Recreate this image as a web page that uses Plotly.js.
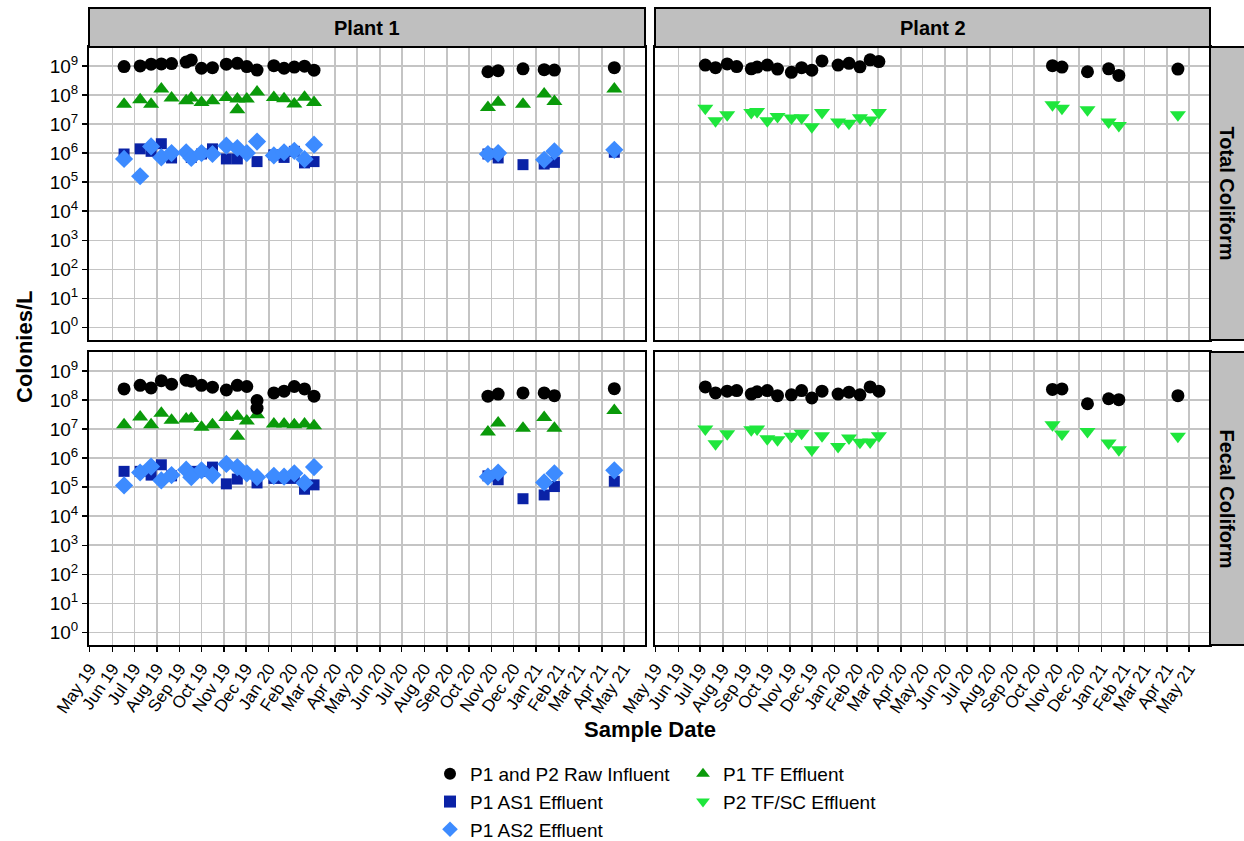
<!DOCTYPE html>
<html>
<head>
<meta charset="utf-8">
<script src="https://cdn.plot.ly/plotly-3.0.1.min.js"></script>
<style>html,body{margin:0;padding:0;background:#fff;}#chart{width:1244px;height:841px;}</style>
</head>
<body>
<div id="chart"></div>
<script>
// ---- Data ----
const P1_DATES = ['2019-06-17','2019-07-09','2019-07-24','2019-08-07','2019-08-21','2019-09-10','2019-09-17',
  '2019-10-01','2019-10-16','2019-11-04','2019-11-19','2019-11-19','2019-12-02','2019-12-16','2019-12-16',
  '2020-01-08','2020-01-22','2020-02-05','2020-02-19','2020-03-03',
  '2020-10-27','2020-11-10','2020-12-14','2021-01-12','2021-01-26','2021-04-18'];

const P1_TC_INFLUENT = [9.5e8,1.0e9,1.15e9,1.17e9,1.2e9,1.35e9,1.6e9,8.3e8,8.7e8,1.15e9,1.23e9,null,9.5e8,7.2e8,null,
  1.02e9,8.3e8,9.1e8,9.8e8,7.1e8, 6.3e8,6.8e8,7.9e8,7.4e8,7.2e8,8.7e8];
const P1_TC_AS1 = [9.3e5,1.4e6,1.15e6,2.1e6,6.8e5,null,7.1e5,9.3e5,1.4e6,6.3e5,6.3e5,null,null,5.1e5,null,
  8.7e5,7.1e5,1.15e6,4.6e5,5.1e5, 9.3e5,6.8e5,4.0e5,4.2e5,4.8e5,1.07e6];
const P1_TC_AS2 = [6.3e5,1.6e5,1.7e6,7.1e5,1.0e6,1.07e6,6.8e5,1.0e6,9.3e5,1.8e6,1.5e6,null,1.0e6,2.5e6,null,
  8.3e5,1.07e6,1.2e6,6.2e5,1.95e6, 9.3e5,1.0e6,null,5.9e5,1.15e6,1.3e6];
const P1_TC_TF = [4.8e7,6.8e7,4.8e7,1.6e8,7.8e7,6.3e7,7.8e7,5.5e7,6.3e7,8.1e7,7.2e7,3.1e7,7.2e7,1.26e8,null,
  8.1e7,7.4e7,4.9e7,8.3e7,5.5e7, 3.7e7,5.6e7,4.8e7,1.07e8,5.9e7,1.6e8];

const P1_FC_INFLUENT = [2.4e8,3.2e8,2.6e8,4.6e8,3.5e8,4.8e8,4.4e8,3.2e8,2.75e8,2.2e8,3.2e8,null,2.9e8,9.5e7,5.2e7,
  1.74e8,2.0e8,2.9e8,2.4e8,1.35e8, 1.35e8,1.6e8,1.74e8,1.74e8,1.4e8,2.45e8];
const P1_FC_AS1 = [3.5e5,3.5e5,2.6e5,5.9e5,2.45e5,null,3.5e5,3.5e5,4.9e5,1.3e5,1.9e5,null,null,1.4e5,null,
  2.0e5,2.0e5,2.0e5,8.5e4,1.2e5, 2.45e5,1.8e5,4.0e4,5.4e4,1.05e5,1.6e5];
const P1_FC_AS2 = [1.15e5,3.2e5,5.1e5,1.7e5,2.6e5,4.0e5,2.2e5,3.8e5,2.6e5,6.3e5,4.9e5,null,3.0e5,2.2e5,null,
  2.45e5,2.3e5,3.0e5,1.4e5,4.9e5, 2.3e5,3.2e5,null,1.45e5,3.0e5,3.8e5];
const P1_FC_TF = [1.4e7,2.6e7,1.4e7,3.5e7,2.0e7,2.2e7,2.3e7,1.15e7,1.4e7,2.5e7,2.75e7,5.6e6,1.9e7,3.1e7,null,
  1.5e7,1.5e7,1.4e7,1.5e7,1.3e7, 7.9e6,1.6e7,1.07e7,2.5e7,1.07e7,4.3e7];

const P2_DATES = ['2019-07-08','2019-07-22','2019-08-07','2019-08-20','2019-09-09','2019-09-17','2019-10-01',
  '2019-10-15','2019-11-03','2019-11-17','2019-12-01','2019-12-15','2020-01-06','2020-01-21','2020-02-05',
  '2020-02-19','2020-03-02','2020-10-26','2020-11-08','2020-12-13','2021-01-11','2021-01-25','2021-04-16'];

const P2_TC_INFLUENT = [1.07e9,8.7e8,1.17e9,9.5e8,7.9e8,9.1e8,1.07e9,7.8e8,6.0e8,8.7e8,7.1e8,1.48e9,1.07e9,1.23e9,
  9.3e8,1.62e9,1.41e9, 1.02e9,9.1e8,6.3e8,7.9e8,4.7e8,7.8e8];
const P2_TC_TFSC = [3.5e7,1.3e7,2.1e7,null,2.5e7,2.7e7,1.3e7,1.8e7,1.6e7,1.66e7,8.1e6,2.5e7,1.17e7,1.07e7,
  1.66e7,1.38e7,2.5e7, 4.6e7,3.5e7,3.1e7,1.17e7,8.9e6,2.1e7];
const P2_FC_INFLUENT = [2.8e8,1.74e8,2.0e8,2.1e8,1.6e8,1.9e8,2.1e8,1.4e8,1.5e8,2.1e8,1.17e8,2.0e8,1.6e8,1.86e8,
  1.5e8,2.8e8,2.0e8, 2.3e8,2.4e8,7.4e7,1.1e8,1.02e8,1.4e8];
const P2_FC_TFSC = [1.0e7,3.1e6,6.9e6,null,9.5e6,1.0e7,4.6e6,4.3e6,5.6e6,7.2e6,1.95e6,5.9e6,2.5e6,4.9e6,
  3.5e6,3.6e6,5.9e6, 1.4e7,6.8e6,8.3e6,3.3e6,1.95e6,5.6e6];

const Y_TICK_VALS = [1,10,100,1e3,1e4,1e5,1e6,1e7,1e8,1e9];
const Y_TICK_TEXT = ['10<sup>0</sup>','10<sup>1</sup>','10<sup>2</sup>','10<sup>3</sup>','10<sup>4</sup>',
  '10<sup>5</sup>','10<sup>6</sup>','10<sup>7</sup>','10<sup>8</sup>','10<sup>9</sup>'];
const PLANT_LABELS = ['Plant 1','Plant 2'];
const ROW_LABELS = ['Total Coliform','Fecal Coliform'];
const SERIES_NAMES = ['P1 and P2 Raw Influent','P1 AS1 Effluent','P1 AS2 Effluent','P1 TF Effluent','P2 TF/SC Effluent'];

// ---- Styles ----
const FONT = 'Liberation Sans, Arial, sans-serif';
const STY = {
  inf:  {color:'#000000', symbol:'circle', size:13},
  as1:  {color:'#0a22a6', symbol:'square', size:11},
  as2:  {color:'#3d8bff', symbol:'diamond', size:14},
  tf:   {color:'#0a9a0a', symbol:'triangle-up', size:14},
  tfsc: {color:'#1ee63c', symbol:'triangle-down', size:14}
};
const RANK = {inf:1, as1:2, as2:3, tf:1, tfsc:2};

function tr(x, y, key, name, xa, ya, show, legend){
  const s = STY[key];
  return {x:x, y:y, type:'scatter', mode:'markers', name:name, legendgroup:key, legendrank:RANK[key],
    showlegend:show, legend:legend, xaxis:xa, yaxis:ya, cliponaxis:true,
    marker:{color:s.color, symbol:s.symbol, size:s.size, line:{width:0}}};
}

const traces = [
  tr(P1_DATES,P1_TC_AS1,'as1',SERIES_NAMES[1],'x','y',true,'legend'),
  tr(P1_DATES,P1_TC_AS2,'as2',SERIES_NAMES[2],'x','y',true,'legend'),
  tr(P1_DATES,P1_TC_TF,'tf',SERIES_NAMES[3],'x','y',true,'legend2'),
  tr(P1_DATES,P1_TC_INFLUENT,'inf',SERIES_NAMES[0],'x','y',true,'legend'),
  tr(P2_DATES,P2_TC_TFSC,'tfsc',SERIES_NAMES[4],'x2','y2',true,'legend2'),
  tr(P2_DATES,P2_TC_INFLUENT,'inf',SERIES_NAMES[0],'x2','y2',false,'legend'),
  tr(P1_DATES,P1_FC_AS1,'as1',SERIES_NAMES[1],'x3','y3',false,'legend'),
  tr(P1_DATES,P1_FC_AS2,'as2',SERIES_NAMES[2],'x3','y3',false,'legend'),
  tr(P1_DATES,P1_FC_TF,'tf',SERIES_NAMES[3],'x3','y3',false,'legend2'),
  tr(P1_DATES,P1_FC_INFLUENT,'inf',SERIES_NAMES[0],'x3','y3',false,'legend'),
  tr(P2_DATES,P2_FC_TFSC,'tfsc',SERIES_NAMES[4],'x4','y4',false,'legend2'),
  tr(P2_DATES,P2_FC_INFLUENT,'inf',SERIES_NAMES[0],'x4','y4',false,'legend')
];

const W = 1244, H = 841;
const XL = [89/W, 645/W], XR = [655/W, 1210/W];
const YT = [1-340/H, 1-47/H], YB = [1-645/H, 1-352/H];
const XRANGE = ['2019-04-30','2021-05-30'];

function xax(domain, anchor, labels){
  return {domain:domain, anchor:anchor, type:'date', range:XRANGE, tick0:'2019-05-01', dtick:'M1',
    tickformat:'%b %y', tickangle:-56, showticklabels:labels, ticks:labels?'outside':'', ticklen:5,
    tickwidth:1.5, tickcolor:'#000', showgrid:true, gridcolor:'#c4c4c4', gridwidth:1.6,
    showline:true, linecolor:'#000', linewidth:2, mirror:true, zeroline:false, automargin:false,
    tickfont:{family:FONT, size:17, color:'#000'}};
}
function yax(domain, anchor, labels){
  return {domain:domain, anchor:anchor, type:'log', range:[-0.43, 9.65],
    tickvals:Y_TICK_VALS, ticktext:Y_TICK_TEXT, showticklabels:labels, ticks:labels?'outside':'',
    ticklen:5, tickwidth:1.5, tickcolor:'#000', showgrid:true, gridcolor:'#c4c4c4', gridwidth:1.6,
    showline:true, linecolor:'#000', linewidth:2, mirror:true, zeroline:false, automargin:false,
    tickfont:{family:FONT, size:19, color:'#000'}};
}

const STRIP_FILL = '#bfbfbf';
const shapes = [
  {type:'rect', xref:'paper', yref:'paper', x0:XL[0], x1:XL[1], y0:1-47/H, y1:1-8/H, fillcolor:STRIP_FILL, line:{color:'#000', width:2}},
  {type:'rect', xref:'paper', yref:'paper', x0:XR[0], x1:XR[1], y0:1-47/H, y1:1-8/H, fillcolor:STRIP_FILL, line:{color:'#000', width:2}},
  {type:'rect', xref:'paper', yref:'paper', x0:XR[1], x1:1.01, y0:YT[0], y1:YT[1], fillcolor:STRIP_FILL, line:{color:'#000', width:2}},
  {type:'rect', xref:'paper', yref:'paper', x0:XR[1], x1:1.01, y0:YB[0], y1:YB[1], fillcolor:STRIP_FILL, line:{color:'#000', width:2}}
];
function ann(text, x, y, angle, size){
  return {text:'<b>'+text+'</b>', xref:'paper', yref:'paper', x:x, y:y, xanchor:'center', yanchor:'middle',
    textangle:angle, showarrow:false, font:{family:FONT, size:size, color:'#000'}};
}
const annotations = [
  ann(PLANT_LABELS[0], (XL[0]+XL[1])/2, 1-28/H, 0, 20),
  ann(PLANT_LABELS[1], (XR[0]+XR[1])/2, 1-28/H, 0, 20),
  ann(ROW_LABELS[0], (XR[1]+1)/2, (YT[0]+YT[1])/2, 90, 20),
  ann(ROW_LABELS[1], (XR[1]+1)/2, (YB[0]+YB[1])/2, 90, 20),
  ann('Colonies/L', 24/W, 1-347/H, -90, 22),
  ann('Sample Date', 650/W, 1-729/H, 0, 22)
];

const legStyle = {xanchor:'left', yanchor:'top', orientation:'v', traceorder:'normal',
  font:{family:FONT,size:19,color:'#000'}, bgcolor:'rgba(0,0,0,0)', tracegroupgap:0, itemsizing:'constant'};

const layout = {
  width:W, height:H, margin:{l:0,r:0,t:0,b:0,autoexpand:false}, paper_bgcolor:'#fff', plot_bgcolor:'#fff',
  font:{family:FONT, color:'#000'},
  xaxis:xax(XL,'y',false), xaxis2:xax(XR,'y2',false), xaxis3:xax(XL,'y3',true), xaxis4:xax(XR,'y4',true),
  yaxis:yax(YT,'x',true), yaxis2:yax(YT,'x2',false), yaxis3:yax(YB,'x3',true), yaxis4:yax(YB,'x4',false),
  legend:Object.assign({x:430/W, y:1-755/H}, legStyle),
  legend2:Object.assign({x:683/W, y:1-755/H}, legStyle),
  shapes:shapes, annotations:annotations
};

Plotly.newPlot('chart', traces, layout, {displayModeBar:false, staticPlot:true});
</script>
</body>
</html>
